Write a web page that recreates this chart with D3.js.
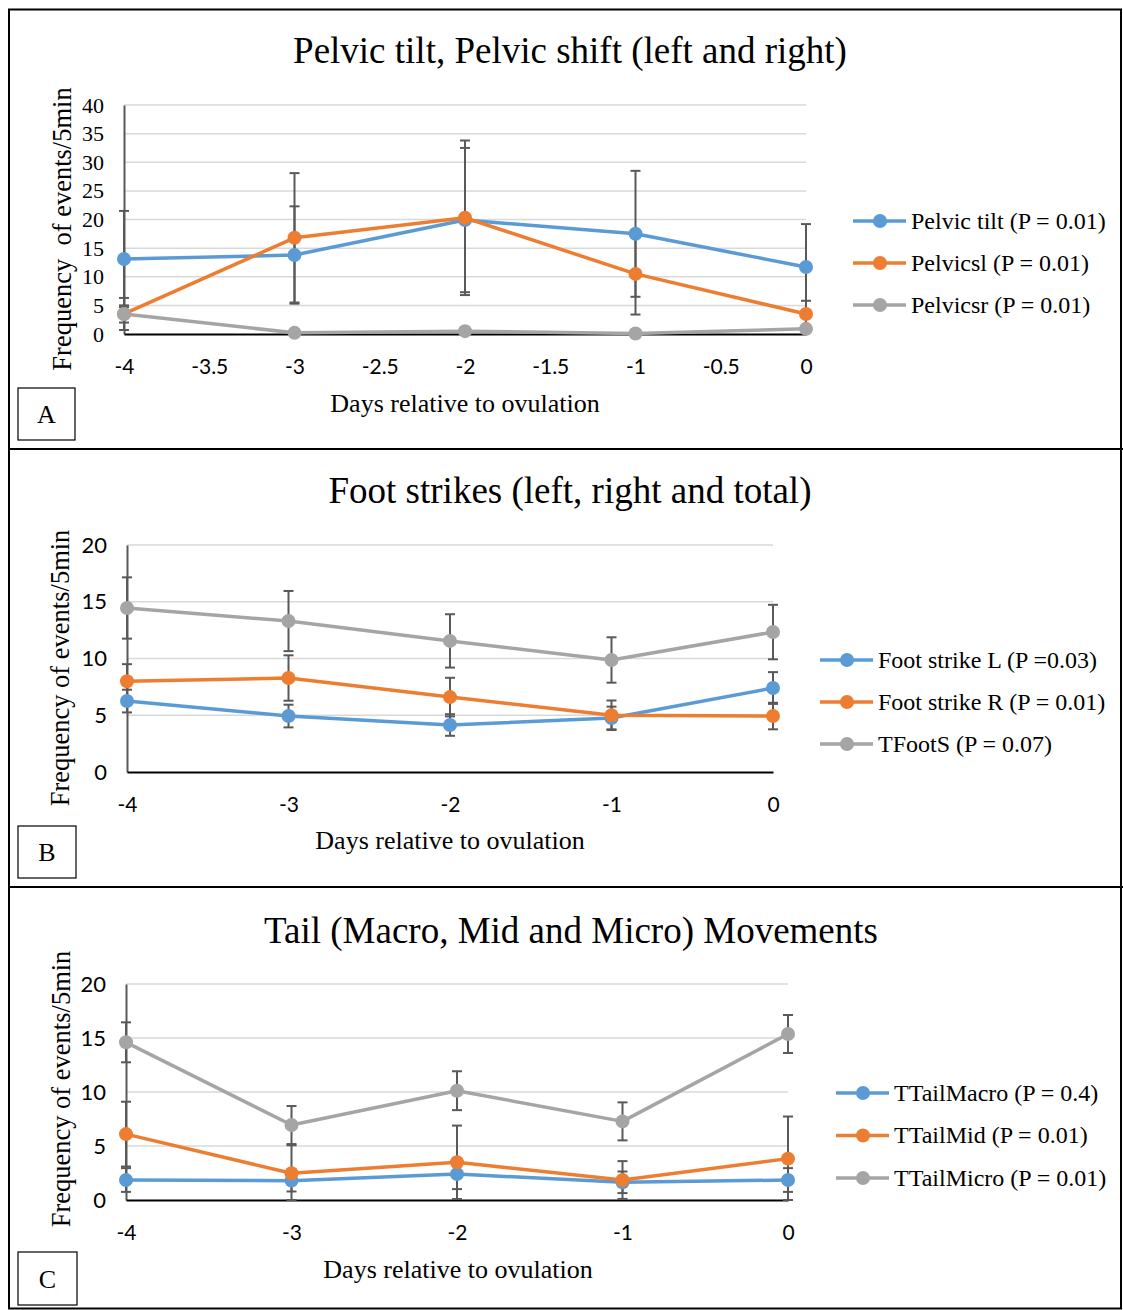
<!DOCTYPE html>
<html>
<head>
<meta charset="utf-8">
<script src="https://cdn.jsdelivr.net/npm/d3@7"></script>
<style>
  body { margin: 0; background: #fff; }
  svg { display: block; }
  .grid line { stroke: #d9d9d9; stroke-width: 1.5; }
</style>
</head>
<body>
<svg id="canvas" width="1123" height="1310"></svg>
<script>
var days = [-4, -3, -2, -1, 0];
var colors = ['#5b9bd5', '#ed7d31', '#a5a5a5'];

// Panel A
var pelvicTilt    = [13.1, 13.8, 19.9, 17.5, 11.7];
var pelvicTiltErr = [8.4, 8.5, 12.6, 11.0, 7.5];
var pelvicSL      = [3.5, 16.8, 20.3, 10.5, 3.5];
var pelvicSLErr   = [2.8, 11.3, 13.5, 7.1, 2.3];
var pelvicSR      = [3.5, 0.2, 0.5, 0.1, 0.9];
var pelvicSRErr   = [1.5, 0.3, 0.4, 0.2, 0.5];
var legendA = ['Pelvic tilt (P = 0.01)', 'Pelvicsl (P = 0.01)', 'Pelvicsr (P = 0.01)'];

// Panel B
var footL     = [6.25, 4.93, 4.14, 4.76, 7.4];
var footLErr  = [1.0, 1.0, 0.95, 1.0, 1.4];
var footR     = [8.0, 8.28, 6.6, 5.0, 4.93];
var footRErr  = [1.5, 2.0, 1.7, 1.3, 1.17];
var footT     = [14.45, 13.3, 11.55, 9.87, 12.33];
var footTErr  = [2.7, 2.65, 2.35, 2.0, 2.4];
var legendB = ['Foot strike L (P =0.03)', 'Foot strike R (P = 0.01)', 'TFootS (P = 0.07)'];

// Panel C
var tailMacro    = [1.85, 1.79, 2.41, 1.64, 1.85];
var tailMacroErr = [1.1, 1.0, 1.4, 1.0, 1.1];
var tailMid      = [6.1, 2.47, 3.49, 1.85, 3.83];
var tailMidErr   = [3.0, 2.6, 3.4, 1.75, 3.9];
var tailMicro    = [14.6, 6.94, 10.12, 7.28, 15.37];
var tailMicroErr = [1.85, 1.76, 1.8, 1.76, 1.76];
var legendC = ['TTailMacro (P = 0.4)', 'TTailMid (P = 0.01)', 'TTailMicro (P = 0.01)'];

var serif = '"Liberation Serif", "Times New Roman", serif';
var sans = 'Lato, "Open Sans", sans-serif';

var svg = d3.select('#canvas');

// ************************************************************************************** //
// Frame

svg.append('rect').attr('x', 9).attr('y', 9.5).attr('width', 1112).attr('height', 1299)
  .style('fill', 'none').style('stroke', '#000').style('stroke-width', 2);
[449, 887].forEach(function(y){
  svg.append('line').attr('x1', 8).attr('x2', 1123).attr('y1', y).attr('y2', y)
    .style('stroke', '#000').style('stroke-width', 2);
});

// ************************************************************************************** //
// Panels

function drawPanel(p){
  var g = svg.append('g');
  var x = d3.scaleLinear().domain([-4, 0]).range([p.x0, p.x1]);
  var y = d3.scaleLinear().domain([0, p.yMax]).range([p.yBot, p.yTop]);

  // title
  g.append('text').attr('x', p.titleX).attr('y', p.titleY).attr('text-anchor', 'middle')
    .style('font-family', serif).style('font-size', '37px').text(p.title);

  // gridlines
  var yTicks = d3.range(0, p.yMax + 0.001, p.yStep);
  g.append('g').attr('class', 'grid').selectAll('line').data(yTicks.slice(1)).join('line')
    .attr('x1', p.x0).attr('x2', p.x1).attr('y1', d => y(d)).attr('y2', d => y(d));

  // y axis
  var yAxis = d3.axisLeft(y).tickValues(yTicks).tickSize(0).tickPadding(20);
  var ya = g.append('g').attr('transform', 'translate(' + p.x0 + ',0)').call(yAxis);
  ya.select('.domain').style('stroke', '#595959').style('stroke-width', 2);
  ya.selectAll('text').style('font-family', p.yFont).style('font-size', '22px').style('fill', '#000');

  // x axis
  var xTicks = d3.range(-4, 0.001, p.xStep);
  var xAxis = d3.axisBottom(x).tickValues(xTicks).tickSize(0).tickPadding(25)
    .tickFormat(d => String(+d.toFixed(1)));
  var xa = g.append('g').attr('transform', 'translate(0,' + p.yBot + ')').call(xAxis);
  xa.select('.domain').style('stroke', '#000').style('stroke-width', 2);
  xa.selectAll('text').style('font-family', sans).style('font-size', '21px').style('fill', '#000');

  // axis titles
  g.append('text').attr('transform', 'translate(' + p.yTitleX + ',' + p.yTitleY + ') rotate(-90)')
    .attr('text-anchor', 'middle').attr('dy', '0.35em')
    .style('font-family', serif).style('font-size', '26.5px').style('white-space', 'pre').text(p.yTitle);
  g.append('text').attr('x', p.xTitleX).attr('y', p.xTitleY).attr('text-anchor', 'middle')
    .style('font-family', serif).style('font-size', '26px').text('Days relative to ovulation');

  // error bars
  p.series.forEach(function(s){
    var eb = g.append('g').style('stroke', '#595959').style('stroke-width', 2);
    days.forEach(function(d, i){
      var cx = x(d), lo = y(Math.max(0, s.vals[i] - s.errs[i])), hi = y(s.vals[i] + s.errs[i]);
      eb.append('line').attr('x1', cx).attr('x2', cx).attr('y1', lo).attr('y2', hi);
      eb.append('line').attr('x1', cx - 5).attr('x2', cx + 5).attr('y1', lo).attr('y2', lo);
      eb.append('line').attr('x1', cx - 5).attr('x2', cx + 5).attr('y1', hi).attr('y2', hi);
    });
  });

  // lines and markers
  var lineGen = d3.line().x((d, i) => x(days[i])).y(d => y(d));
  p.series.forEach(function(s, k){
    g.append('path').attr('d', lineGen(s.vals))
      .style('fill', 'none').style('stroke', colors[k]).style('stroke-width', 3.5)
      .style('stroke-linejoin', 'round');
    g.selectAll(null).data(s.vals).join('circle')
      .attr('cx', (d, i) => x(days[i])).attr('cy', d => y(d)).attr('r', 7)
      .style('fill', colors[k]);
  });

  // legend
  p.legend.forEach(function(txt, k){
    var ly = p.legY + k * p.legGap;
    g.append('line').attr('x1', p.legX).attr('x2', p.legX + 53).attr('y1', ly).attr('y2', ly)
      .style('stroke', colors[k]).style('stroke-width', 3.5);
    g.append('circle').attr('cx', p.legX + 27).attr('cy', ly).attr('r', 7).style('fill', colors[k]);
    g.append('text').attr('x', p.legX + 58).attr('y', ly).attr('dy', '0.33em')
      .style('font-family', serif).style('font-size', '24px').text(txt);
  });

  // panel letter box
  g.append('rect').attr('x', p.box[0]).attr('y', p.box[1]).attr('width', p.box[2]).attr('height', p.box[3])
    .style('fill', '#fff').style('stroke', '#000').style('stroke-width', 1.2);
  g.append('text').attr('x', p.box[0] + p.box[2] / 2).attr('y', p.box[1] + p.box[3] / 2).attr('dy', '0.35em')
    .attr('text-anchor', 'middle').style('font-family', serif).style('font-size', '26px').text(p.letter);
}

drawPanel({
  title: 'Pelvic tilt, Pelvic shift (left and right)', titleX: 570, titleY: 63,
  x0: 124, x1: 806, yTop: 105, yBot: 334, yMax: 40, yStep: 5, xStep: 0.5, yFont: serif,
  yTitle: 'Frequency  of events/5min', yTitleX: 62, yTitleY: 229, xTitleX: 465, xTitleY: 412,
  series: [{ vals: pelvicTilt, errs: pelvicTiltErr }, { vals: pelvicSL, errs: pelvicSLErr }, { vals: pelvicSR, errs: pelvicSRErr }],
  legend: legendA, legX: 853, legY: 221, legGap: 42,
  box: [18, 388, 57, 52], letter: 'A'
});

drawPanel({
  title: 'Foot strikes (left, right and total)', titleX: 570, titleY: 503,
  x0: 127, x1: 773, yTop: 545, yBot: 772, yMax: 20, yStep: 5, xStep: 1, yFont: sans,
  yTitle: 'Frequency of events/5min', yTitleX: 60, yTitleY: 668, xTitleX: 450, xTitleY: 849,
  series: [{ vals: footL, errs: footLErr }, { vals: footR, errs: footRErr }, { vals: footT, errs: footTErr }],
  legend: legendB, legX: 820, legY: 660, legGap: 42,
  box: [18, 826, 58, 52], letter: 'B'
});

drawPanel({
  title: 'Tail (Macro, Mid and Micro) Movements', titleX: 571, titleY: 943,
  x0: 126, x1: 788, yTop: 984, yBot: 1200, yMax: 20, yStep: 5, xStep: 1, yFont: sans,
  yTitle: 'Frequency of events/5min', yTitleX: 61, yTitleY: 1089, xTitleX: 458, xTitleY: 1278,
  series: [{ vals: tailMacro, errs: tailMacroErr }, { vals: tailMid, errs: tailMidErr }, { vals: tailMicro, errs: tailMicroErr }],
  legend: legendC, legX: 836, legY: 1093, legGap: 42.5,
  box: [18, 1252, 59, 53], letter: 'C'
});
</script>
</body>
</html>
